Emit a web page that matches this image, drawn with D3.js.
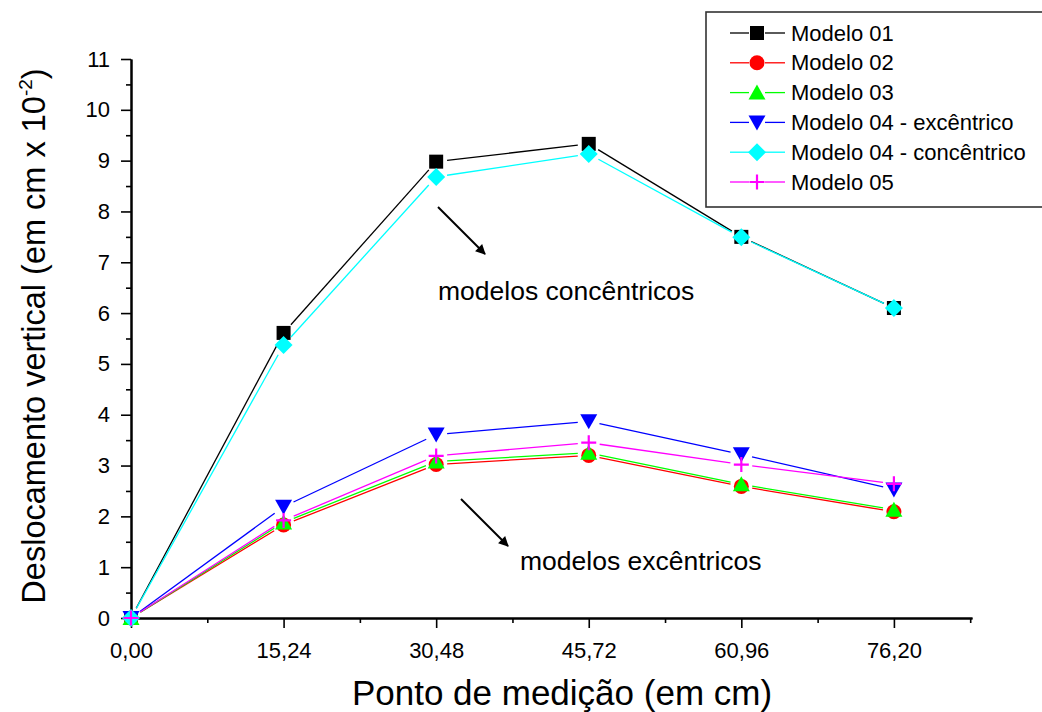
<!DOCTYPE html>
<html>
<head>
<meta charset="utf-8">
<script src="https://cdn.jsdelivr.net/npm/d3@7"></script>
<style>
  html, body { margin: 0; padding: 0; background: #fff; }
  svg { display: block; font-family: "Liberation Sans", Arial, Helvetica, sans-serif; }
</style>
</head>
<body>
<svg id="chart" width="1042" height="712"></svg>
<script>
// Measurement points along the beam (cm)
const pontos = [0, 15.24, 30.48, 45.72, 60.96, 76.20];
const xTickValues = [0, 15.24, 30.48, 45.72, 60.96, 76.20];
const yTickValues = [0, 1, 2, 3, 4, 5, 6, 7, 8, 9, 10, 11];

// Vertical displacement of each model (cm x 10^-2)
const modelo01 = [0, 5.61, 8.98, 9.33, 7.50, 6.10];
const modelo02 = [0, 1.83, 3.02, 3.20, 2.59, 2.09];
const modelo03 = [0, 1.88, 3.08, 3.25, 2.63, 2.13];
const modelo04exc = [0, 2.19, 3.61, 3.87, 3.22, 2.53];
const modelo04conc = [0, 5.37, 8.68, 9.13, 7.49, 6.10];
const modelo05 = [0, 1.92, 3.19, 3.45, 3.02, 2.64];

const seriesNames = ["Modelo 01", "Modelo 02", "Modelo 03", "Modelo 04 - excêntrico", "Modelo 04 - concêntrico", "Modelo 05"];

const series = [
  { name: seriesNames[0], values: modelo01, color: "#000000", symbol: "square" },
  { name: seriesNames[1], values: modelo02, color: "#ff0000", symbol: "circle" },
  { name: seriesNames[2], values: modelo03, color: "#00ff00", symbol: "triangleUp" },
  { name: seriesNames[3], values: modelo04exc, color: "#0000ff", symbol: "triangleDown" },
  { name: seriesNames[4], values: modelo04conc, color: "#00ffff", symbol: "diamond" },
  { name: seriesNames[5], values: modelo05, color: "#ff00ff", symbol: "plus" }
];

const svg = d3.select("#chart");
const plotLeft = 131, plotRight = 972, plotTop = 59, plotBottom = 618;

const x = d3.scaleLinear().domain([0, 84]).range([plotLeft, plotRight]);
const y = d3.scaleLinear().domain([0, 11]).range([plotBottom, plotTop]);

const ptBR = d3.formatLocale({ decimal: ",", thousands: ".", grouping: [3], currency: ["R$", ""] });
const fmt2 = ptBR.format(".2f");

// Axes
const xAxis = d3.axisBottom(x).tickValues(xTickValues).tickFormat(fmt2).tickSize(10).tickSizeOuter(0).tickPadding(14);
const xMinor = d3.axisBottom(x).tickValues(d3.range(7.62, 84, 15.24)).tickFormat("").tickSize(5).tickSizeOuter(0);
const yAxis = d3.axisLeft(y).tickValues(yTickValues).tickFormat(d3.format("d")).tickSize(10).tickSizeOuter(0).tickPadding(11);
const yMinor = d3.axisLeft(y).tickValues(d3.range(0.5, 11, 1)).tickFormat("").tickSize(5).tickSizeOuter(0);

function styleAxis(g) {
  g.selectAll("path.domain").attr("stroke", "#000").attr("stroke-width", 2);
  g.selectAll(".tick line").attr("stroke", "#000").attr("stroke-width", 1.6);
  g.selectAll(".tick text").attr("fill", "#000").attr("font-size", 22)
    .attr("font-family", "'Liberation Sans', Arial, sans-serif");
}

svg.append("g").attr("transform", `translate(0,${plotBottom})`).call(xMinor).call(styleAxis);
svg.append("g").attr("transform", `translate(0,${plotBottom})`).call(xAxis).call(styleAxis);
svg.append("g").attr("transform", `translate(${plotLeft},0)`).call(yMinor).call(styleAxis);
svg.append("g").attr("transform", `translate(${plotLeft},0)`).call(yAxis).call(styleAxis);

// Axis titles
svg.append("text")
  .attr("x", 562).attr("y", 705)
  .attr("text-anchor", "middle").attr("font-size", 35).attr("fill", "#000")
  .text("Ponto de medição (em cm)");

const yTitle = svg.append("text")
  .attr("transform", `translate(45,336) rotate(-90)`)
  .attr("text-anchor", "middle").attr("font-size", 32.5).attr("fill", "#000");
yTitle.append("tspan").text("Deslocamento vertical (em cm x 10");
yTitle.append("tspan").attr("font-size", 19).attr("dy", -13).text("-2");
yTitle.append("tspan").attr("dy", 13).text(")");

// Marker drawing
function drawMarker(g, sym, cx, cy, color) {
  if (sym === "square") {
    g.append("rect").attr("x", cx - 7).attr("y", cy - 7).attr("width", 14).attr("height", 14).attr("fill", color);
  } else if (sym === "circle") {
    g.append("circle").attr("cx", cx).attr("cy", cy).attr("r", 7.5).attr("fill", color);
  } else if (sym === "triangleUp") {
    g.append("path").attr("d", `M${cx},${cy - 8}L${cx + 8.5},${cy + 7}L${cx - 8.5},${cy + 7}Z`).attr("fill", color);
  } else if (sym === "triangleDown") {
    g.append("path").attr("d", `M${cx - 8.5},${cy - 7}L${cx + 8.5},${cy - 7}L${cx},${cy + 8}Z`).attr("fill", color);
  } else if (sym === "diamond") {
    g.append("path").attr("d", `M${cx},${cy - 9}L${cx + 9},${cy}L${cx},${cy + 9}L${cx - 9},${cy}Z`).attr("fill", color);
  } else if (sym === "plus") {
    g.append("path").attr("d", `M${cx - 7.5},${cy}H${cx + 7.5}M${cx},${cy - 7.5}V${cy + 7.5}`)
      .attr("stroke", color).attr("stroke-width", 2.2).attr("fill", "none");
  }
}

// Lines stop short of each marker, leaving a small gap
const gap = 11;
const plot = svg.append("g");
series.forEach(s => {
  const g = plot.append("g");
  const pts = s.values.map((v, i) => [x(pontos[i]), y(v)]);
  for (let i = 0; i < pts.length - 1; i++) {
    const [x1, y1] = pts[i], [x2, y2] = pts[i + 1];
    const dx = x2 - x1, dy = y2 - y1, len = Math.hypot(dx, dy);
    if (len <= 2 * gap) continue;
    const ux = dx / len, uy = dy / len;
    g.append("line")
      .attr("x1", x1 + ux * gap).attr("y1", y1 + uy * gap)
      .attr("x2", x2 - ux * gap).attr("y2", y2 - uy * gap)
      .attr("stroke", s.color).attr("stroke-width", 1.3);
  }
  pts.forEach(([cx, cy]) => drawMarker(g, s.symbol, cx, cy, s.color));
});

// Annotations with arrows
svg.append("defs").append("marker")
  .attr("id", "arrowhead").attr("viewBox", "0 0 10 10").attr("refX", 9).attr("refY", 5)
  .attr("markerWidth", 5.5).attr("markerHeight", 5).attr("orient", "auto")
  .append("path").attr("d", "M0,0L10,5L0,10Z").attr("fill", "#000");

svg.append("line").attr("x1", 438).attr("y1", 207).attr("x2", 485).attr("y2", 254)
  .attr("stroke", "#000").attr("stroke-width", 2).attr("marker-end", "url(#arrowhead)");
svg.append("line").attr("x1", 461).attr("y1", 499).attr("x2", 508).attr("y2", 546)
  .attr("stroke", "#000").attr("stroke-width", 2).attr("marker-end", "url(#arrowhead)");

svg.append("text").attr("x", 438).attr("y", 300).attr("font-size", 26.5).attr("fill", "#000")
  .text("modelos concêntricos");
svg.append("text").attr("x", 520).attr("y", 570).attr("font-size", 26.5).attr("fill", "#000")
  .text("modelos excêntricos");

// Legend
const legend = svg.append("g");
legend.append("rect").attr("x", 706).attr("y", 12).attr("width", 340).attr("height", 195)
  .attr("fill", "#fff").attr("stroke", "#333").attr("stroke-width", 1.6);
series.forEach((s, i) => {
  const cy = 33 + i * 29.8;
  const g = legend.append("g");
  g.append("line").attr("x1", 730).attr("x2", 749).attr("y1", cy).attr("y2", cy).attr("stroke", s.color).attr("stroke-width", 1.3);
  g.append("line").attr("x1", 765).attr("x2", 785).attr("y1", cy).attr("y2", cy).attr("stroke", s.color).attr("stroke-width", 1.3);
  drawMarker(g, s.symbol, 757, cy, s.color);
  g.append("text").attr("x", 791).attr("y", cy + 7.5).attr("font-size", 22).attr("fill", "#000").text(s.name);
});
</script>
</body>
</html>
